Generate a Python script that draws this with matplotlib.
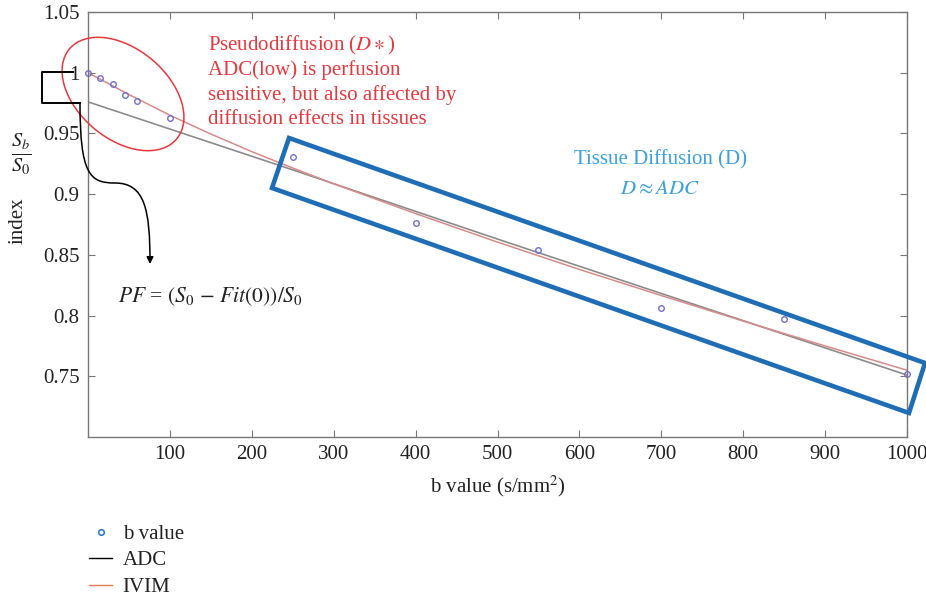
import numpy as np
import matplotlib
matplotlib.use("Agg")
import matplotlib.pyplot as plt
from matplotlib.lines import Line2D
from matplotlib.patches import Ellipse, Polygon, FancyArrowPatch
from matplotlib.path import Path
from matplotlib.transforms import IdentityTransform

plt.rcParams['font.family'] = ['Liberation Serif', 'DejaVu Serif']
plt.rcParams['mathtext.fontset'] = 'stix'

# measured signal (b values and normalised signal)
b_vals = [0, 15, 30, 45, 60, 100, 250, 400, 550, 700, 850, 1000]
signal = [1.0, 0.996, 0.991, 0.982, 0.977, 0.963, 0.931, 0.876, 0.854, 0.806, 0.797, 0.752]

# mono-exponential (ADC) fit
adc_b = [0, 250, 500, 750, 1000]
adc_fit = [0.976, 0.920, 0.863, 0.807, 0.751]

# bi-exponential (IVIM) fit
ivim_b = [0, 25, 50, 75, 100, 150, 200, 250, 300, 400, 500, 600, 700, 800, 900, 1000]
ivim_fit = [1.0, 0.991, 0.982, 0.9735, 0.965, 0.9495, 0.935, 0.9215, 0.9085, 0.884,
            0.8605, 0.838, 0.8165, 0.7955, 0.775, 0.755]

x_ticks = [100, 200, 300, 400, 500, 600, 700, 800, 900, 1000]
y_ticks = [0.75, 0.8, 0.85, 0.9, 0.95, 1.0, 1.05]
y_labels = ['0.75', '0.8', '0.85', '0.9', '0.95', '1', '1.05']

W, H = 926, 599
fig = plt.figure(figsize=(W / 100, H / 100), dpi=100)
ax = fig.add_axes([88 / W, 1 - 437 / H, (907 - 88) / W, (437 - 12) / H])

ax.plot(adc_b, adc_fit, color='#8c8c8c', lw=1.2)
ax.plot(ivim_b, ivim_fit, color='#d98a8a', lw=1.1)
ax.plot(b_vals, signal, 'o', mfc='none', mec='#6f6fcf', ms=4, mew=1.0, clip_on=False)

ax.set_xlim(0, 1000)
ax.set_ylim(0.7, 1.05)
ax.set_xticks(x_ticks)
ax.set_yticks(y_ticks)
ax.set_yticklabels(y_labels)
ax.tick_params(direction='in', top=True, right=True, length=5, color='#777777',
               labelsize=15, labelcolor='#222222', pad=6)
for s in ax.spines.values():
    s.set_color('#777777')
    s.set_linewidth(1.0)

ax.set_xlabel(r'b value (s/mm$^2$)', fontsize=15, color='#222222', labelpad=7)


def P(x, y):
    # image pixel (from top) -> display coords
    return (x, H - y)


T = IdentityTransform()

# y label parts
fig.text(*P(18, 221), 'index', transform=T, rotation=90, fontsize=15,
         ha='center', va='center', color='#222222')
fig.text(*P(21, 154), r'$\frac{S_b}{S_0}$', transform=T, fontsize=21,
         ha='center', va='center', color='#222222')

# red annotation
red = '#e8383d'
red_lines = [r'Pseudodiffusion ($D\ast$)', 'ADC(low) is perfusion',
             'sensitive, but also affected by', 'diffusion effects in tissues']
for i, line in enumerate(red_lines):
    fig.text(*P(208, 45 + 25 * i), line, transform=T, fontsize=15, color=red,
             ha='left', va='center')
fig.add_artist(Ellipse(P(123, 94), 140, 90, angle=-40, fill=False, ec=red,
                       lw=1.1, transform=T))

# blue box
blue_box = Polygon([P(289, 138), P(925, 363), P(909, 413), P(272, 188)], closed=True,
                   fill=False, ec='#1f6db5', lw=3.3, transform=T)
fig.add_artist(blue_box)
fig.text(*P(660, 160), 'Tissue Diffusion (D)', transform=T, fontsize=15,
         color='#3aa0e0', ha='center', va='center')
fig.text(*P(660, 190), r'$D \approx ADC$', transform=T, fontsize=15,
         color='#3aa0e0', ha='center', va='center')

# PF bracket and arrow
fig.add_artist(Line2D([P(73, 72)[0], P(42, 72)[0], P(42, 103)[0], P(80, 103)[0]],
                      [P(73, 72)[1], P(42, 72)[1], P(42, 103)[1], P(80, 103)[1]],
                      color='black', lw=1.4, transform=T))
verts = [P(80, 103), P(80, 175), P(90, 183), P(115, 183),
         P(145, 183), P(150, 210), P(150, 264)]
codes = [Path.MOVETO] + [Path.CURVE4] * 6
fig.add_artist(FancyArrowPatch(path=Path(verts, codes), arrowstyle='-|>',
                               mutation_scale=10, color='black', lw=1.1, transform=T))
fig.text(*P(118, 297), r'$PF$ = $(S_0\,-\,Fit(0))/S_0$', transform=T, fontsize=15.5,
         color='#222222', ha='left', va='center')

# legend
handles = [Line2D([], [], ls='none', marker='o', mfc='none', mec='#2a7fd0', ms=4, mew=1.2),
           Line2D([], [], color='black', lw=1.0),
           Line2D([], [], color='#e07b4f', lw=1.0)]
fig.legend(handles, ['b value', 'ADC', 'IVIM'], loc='upper left',
           bbox_to_anchor=(81 / W, 1 - 516 / H), frameon=False, fontsize=15,
           handlelength=1.1, handletextpad=0.5, labelspacing=0.33, borderaxespad=0,
           labelcolor='#222222')

fig.savefig('out.png', dpi=100)
